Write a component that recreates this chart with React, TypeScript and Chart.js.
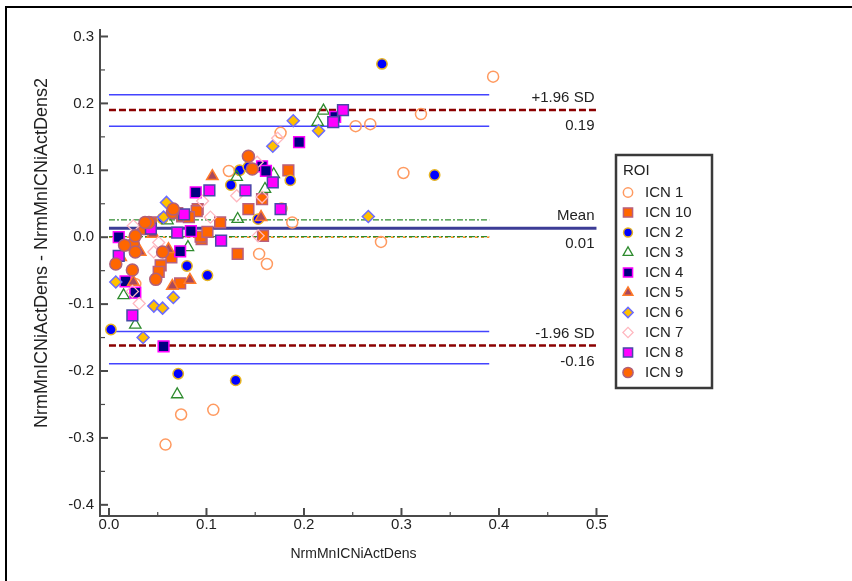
import React, { useEffect, useRef } from "react";
import { Chart, registerables } from "chart.js";
import { drawPoint } from "chart.js/helpers";

Chart.register(...registerables);

// ---------- data ----------
const seriesLabels = ["ICN 1", "ICN 10", "ICN 2", "ICN 3", "ICN 4", "ICN 5", "ICN 6", "ICN 7", "ICN 8", "ICN 9"];

const icn1X = [0.394, 0.32, 0.253, 0.268, 0.302, 0.279, 0.176, 0.177, 0.188, 0.154, 0.162, 0.058, 0.074, 0.107, 0.123, 0.027];
const icn1Y = [0.24, 0.184, 0.166, 0.169, 0.096, -0.007, 0.156, 0.043, 0.022, -0.025, -0.04, -0.31, -0.265, -0.258, 0.099, -0.07];

const icn10X = [0.184, 0.143, 0.157, 0.114, 0.091, 0.158, 0.132, 0.095, 0.09, 0.075, 0.043, 0.064, 0.053, 0.051, 0.073, 0.094, 0.07, 0.082, 0.101, 0.036];
const icn10Y = [0.1, 0.042, 0.057, 0.022, 0.042, 0.002, -0.025, -0.003, 0.039, 0.031, 0.022, -0.03, -0.042, -0.052, -0.069, 0.001, 0.036, 0.03, 0.008, 0.012];

const icn2X = [0.28, 0.334, 0.002, 0.071, 0.13, 0.186, 0.134, 0.143, 0.125, 0.153, 0.08, 0.101, 0.055];
const icn2Y = [0.259, 0.093, -0.138, -0.204, -0.214, 0.085, 0.1, 0.105, 0.078, 0.027, -0.043, -0.057, 0.028];

const icn3X = [0.22, 0.214, 0.169, 0.16, 0.131, 0.132, 0.081, 0.015, 0.027, 0.07, 0.06];
const icn3Y = [0.189, 0.172, 0.094, 0.072, 0.09, 0.027, -0.015, -0.087, -0.131, -0.235, 0.025];

const icn4X = [0.232, 0.195, 0.157, 0.161, 0.089, 0.073, 0.01, 0.017, 0.027, 0.084, 0.056];
const icn4Y = [0.18, 0.142, 0.106, 0.099, 0.067, -0.021, 0.0, -0.066, -0.083, 0.009, -0.163];

const icn5X = [0.106, 0.022, 0.032, 0.061, 0.065, 0.083, 0.025, 0.156, 0.012, 0.045];
const icn5Y = [0.091, -0.015, -0.022, -0.018, -0.073, -0.064, -0.067, 0.03, -0.03, 0.005];

const icn6X = [0.189, 0.168, 0.215, 0.266, 0.059, 0.007, 0.066, 0.046, 0.055, 0.035, 0.056];
const icn6Y = [0.174, 0.136, 0.159, 0.031, 0.052, -0.067, -0.09, -0.103, -0.106, -0.15, 0.03];

const icn7X = [0.173, 0.152, 0.131, 0.096, 0.157, 0.104, 0.025, 0.046, 0.031, 0.153, 0.051, 0.024];
const icn7Y = [0.148, 0.112, 0.062, 0.054, 0.06, 0.03, 0.017, -0.022, -0.099, 0.002, -0.008, -0.081];

const icn8X = [0.24, 0.23, 0.168, 0.14, 0.103, 0.176, 0.077, 0.043, 0.07, 0.115, 0.01, 0.024];
const icn8Y = [0.19, 0.172, 0.082, 0.07, 0.07, 0.042, 0.034, 0.013, 0.007, -0.005, -0.028, -0.117];

const icn9X = [0.143, 0.147, 0.065, 0.041, 0.025, 0.027, 0.007, 0.024, 0.048, 0.055, 0.027, 0.037, 0.066, 0.016];
const icn9Y = [0.121, 0.102, 0.037, 0.022, -0.01, -0.022, -0.04, -0.049, -0.063, -0.022, 0.002, 0.022, 0.042, -0.012];

const seriesX = [icn1X, icn10X, icn2X, icn3X, icn4X, icn5X, icn6X, icn7X, icn8X, icn9X];
const seriesY = [icn1Y, icn10Y, icn2Y, icn3Y, icn4Y, icn5Y, icn6Y, icn7Y, icn8Y, icn9Y];

const xTickValues = [0, 0.1, 0.2, 0.3, 0.4, 0.5];
const yTickValues = [-0.4, -0.3, -0.2, -0.1, 0, 0.1, 0.2, 0.3];

const upperLimit = 0.19;
const upperLimitCI = [0.166, 0.213];
const meanDifference = 0.0135;
const meanCI = [0.001, 0.026];
const lowerLimit = -0.162;
const lowerLimitCI = [-0.189, -0.141];
const zeroLine = 0;
const fullLineX = [0, 0.5];
const ciLineX = [0, 0.39];

const limitValues = [upperLimit, meanDifference, lowerLimit];
const limitNames = ["+1.96 SD", "Mean", "-1.96 SD"];
const limitValueLabels = ["0.19", "0.01", "-0.16"];

const xTitle = "NrmMnICNiActDens";
const yTitle = "NrmMnICNiActDens - NrmMnICNiActDens2";
const legendTitle = "ROI";

// ---------- styles ----------
const FONT = '"Liberation Sans", Arial, sans-serif';
const TEXT = "#222222";

const markerStyles = [
  { pointStyle: "circle", radius: 5.5, bg: "rgba(255,255,255,0)", border: "#FF9A60", bw: 1.5 },
  { pointStyle: "rect", radius: 7.6, bg: "#FF6600", border: "#B8607E", bw: 1.5 },
  { pointStyle: "circle", radius: 5.2, bg: "#0000FF", border: "#E6B422", bw: 1.5 },
  { pointStyle: "triangle", radius: 6.6, bg: "rgba(255,255,255,0)", border: "#2E8B2E", bw: 1.3 },
  { pointStyle: "rect", radius: 7.6, bg: "#000080", border: "#FF00FF", bw: 1.5 },
  { pointStyle: "triangle", radius: 6.6, bg: "#A8485E", border: "#FF7A2A", bw: 1.5 },
  { pointStyle: "rectRot", radius: 6, bg: "#FFC000", border: "#6B6BFF", bw: 1.5 },
  { pointStyle: "rectRot", radius: 6, bg: "rgba(255,255,255,0)", border: "#FFB8C0", bw: 1.3 },
  { pointStyle: "rect", radius: 7.6, bg: "#FF00FF", border: "#4848A8", bw: 1.5 },
  { pointStyle: "circle", radius: 6, bg: "#FF6600", border: "#B0607A", bw: 1.5 },
];

function hLine(label: string, xs: number[], y: number, color: string, width: number, dash: number[]) {
  return {
    label,
    data: xs.map((x) => ({ x, y })),
    showLine: true,
    borderColor: color,
    backgroundColor: color,
    borderWidth: width,
    borderDash: dash,
    pointRadius: 0,
    pointHoverRadius: 0,
    order: 100,
  };
}

const innerTicksPlugin = {
  id: "innerTicks",
  afterDatasetsDraw(chart: any) {
    const { ctx, chartArea, scales } = chart;
    ctx.save();
    ctx.strokeStyle = "#4a4a4a";
    xTickValues.forEach((v, i) => {
      const px = scales.x.getPixelForValue(v);
      ctx.lineWidth = 2;
      ctx.beginPath();
      ctx.moveTo(px, chartArea.bottom);
      ctx.lineTo(px, chartArea.bottom - 8);
      ctx.stroke();
      if (i < xTickValues.length - 1) {
        const pm = scales.x.getPixelForValue((v + xTickValues[i + 1]) / 2);
        ctx.lineWidth = 1.2;
        ctx.beginPath();
        ctx.moveTo(pm, chartArea.bottom);
        ctx.lineTo(pm, chartArea.bottom - 4);
        ctx.stroke();
      }
    });
    yTickValues.forEach((v, i) => {
      const py = scales.y.getPixelForValue(v);
      ctx.lineWidth = 2;
      ctx.beginPath();
      ctx.moveTo(chartArea.left, py);
      ctx.lineTo(chartArea.left + 8, py);
      ctx.stroke();
      if (i < yTickValues.length - 1) {
        const pm = scales.y.getPixelForValue((v + yTickValues[i + 1]) / 2);
        ctx.lineWidth = 1.2;
        ctx.beginPath();
        ctx.moveTo(chartArea.left, pm);
        ctx.lineTo(chartArea.left + 5, pm);
        ctx.stroke();
      }
    });
    ctx.restore();
  },
};

const annotationPlugin = {
  id: "annotations",
  afterDraw(chart: any) {
    const { ctx, chartArea, scales } = chart;
    ctx.save();
    ctx.font = `15px ${FONT}`;
    ctx.fillStyle = TEXT;
    ctx.textAlign = "right";
    ctx.textBaseline = "middle";
    const xr = scales.x.getPixelForValue(fullLineX[1]) - 2;
    limitValues.forEach((v, i) => {
      const py = scales.y.getPixelForValue(v);
      ctx.fillText(limitNames[i], xr, py - 12);
      ctx.fillText(limitValueLabels[i], xr, py + 16);
    });
    // axis titles
    ctx.textAlign = "center";
    ctx.font = `14px ${FONT}`;
    ctx.fillText(xTitle, (chartArea.left + chartArea.right) / 2, 554);
    ctx.save();
    ctx.font = `18px ${FONT}`;
    ctx.translate(42, 253);
    ctx.rotate(-Math.PI / 2);
    ctx.fillText(yTitle, 0, 0);
    ctx.restore();

    // legend
    ctx.font = `15px ${FONT}`;
    ctx.strokeStyle = "#3a3a3a";
    ctx.lineWidth = 2.5;
    ctx.strokeRect(616, 155, 96, 233);
    ctx.textAlign = "left";
    ctx.fillStyle = TEXT;
    ctx.fillText(legendTitle, 623, 171);
    seriesLabels.forEach((lab, i) => {
      const y = 192.5 + i * 20;
      const st = markerStyles[i];
      ctx.fillStyle = st.bg;
      ctx.strokeStyle = st.border;
      ctx.lineWidth = st.bw;
      drawPoint(ctx, { pointStyle: st.pointStyle, radius: st.radius * 0.85, borderWidth: st.bw, rotation: 0 } as any, 628, y);
      ctx.fillStyle = TEXT;
      ctx.fillText(lab, 645, y + 0.5);
    });
    ctx.restore();
  },
};

export default function App() {
  const canvasRef = useRef<HTMLCanvasElement | null>(null);

  useEffect(() => {
    if (!canvasRef.current) return;
    Chart.defaults.font.family = FONT;

    const pointSets = seriesLabels.map((label, i) => {
      const st = markerStyles[i];
      return {
        label,
        data: seriesX[i].map((x, j) => ({ x, y: seriesY[i][j] })),
        pointStyle: st.pointStyle,
        pointRadius: st.radius,
        pointHoverRadius: st.radius,
        backgroundColor: st.bg,
        borderColor: st.border,
        pointBorderWidth: st.bw,
        borderWidth: st.bw,
        showLine: false,
        order: 20 - i,
        clip: false,
      };
    });

    const lineSets = [
      hLine("upper CI hi", ciLineX, upperLimitCI[1], "#4343FF", 1.5, []),
      hLine("upper CI lo", ciLineX, upperLimitCI[0], "#4343FF", 1.5, []),
      hLine("lower CI hi", ciLineX, lowerLimitCI[1], "#4343FF", 1.5, []),
      hLine("lower CI lo", ciLineX, lowerLimitCI[0], "#4343FF", 1.5, []),
      hLine("mean CI hi", ciLineX, meanCI[1], "#2E8B2E", 1.2, [6, 2, 2, 2]),
      hLine("mean CI lo", ciLineX, meanCI[0], "#2E8B2E", 1.2, [6, 2, 2, 2]),
      hLine("zero", ciLineX, zeroLine, "#FF8C1A", 1.5, [3, 3]),
      hLine("upper LoA", fullLineX, upperLimit, "#8B0000", 2.5, [7, 3]),
      hLine("lower LoA", fullLineX, lowerLimit, "#8B0000", 2.5, [7, 3]),
      hLine("mean", fullLineX, meanDifference, "#3C3C96", 3, []),
    ];

    const chart = new Chart(canvasRef.current, {
      type: "scatter",
      data: { datasets: [...pointSets, ...lineSets] as any },
      options: {
        animation: false,
        responsive: false,
        devicePixelRatio: 1,
        layout: { padding: { top: 30, right: 245, bottom: 0, left: 0 } },
        plugins: { legend: { display: false }, tooltip: { enabled: false } },
        scales: {
          x: {
            type: "linear",
            min: -0.0092,
            max: 0.5108,
            grid: { display: false, drawTicks: false },
            border: { display: true, color: "#4a4a4a", width: 2 },
            ticks: {
              font: { size: 15, family: FONT },
              color: TEXT,
              padding: 0,
              callback: (v: any) => Number(v).toFixed(1),
            },
            afterBuildTicks: (s: any) => {
              s.ticks = xTickValues.map((value) => ({ value }));
            },
            afterFit: (s: any) => {
              s.height = 65;
            },
          },
          y: {
            type: "linear",
            min: -0.4167,
            max: 0.3097,
            grid: { display: false, drawTicks: false },
            border: { display: true, color: "#4a4a4a", width: 2 },
            ticks: {
              font: { size: 15, family: FONT },
              color: TEXT,
              padding: 6,
              callback: (v: any) => Number(v).toFixed(1),
            },
            afterBuildTicks: (s: any) => {
              s.ticks = yTickValues.map((value) => ({ value }));
            },
            afterFit: (s: any) => {
              s.width = 100;
            },
          },
        },
      } as any,
      plugins: [innerTicksPlugin, annotationPlugin],
    });
    return () => chart.destroy();
  }, []);

  return (
    <div style={{ position: "fixed", left: 0, top: 0, width: 852, height: 581, background: "#fff", overflow: "hidden" }}>
      <canvas ref={canvasRef} width={852} height={581} style={{ display: "block", width: 852, height: 581 }} />
      <div
        style={{
          position: "absolute",
          left: 5,
          top: 6,
          width: 900,
          height: 700,
          border: "2px solid #000",
          pointerEvents: "none",
        }}
      />
    </div>
  );
}
